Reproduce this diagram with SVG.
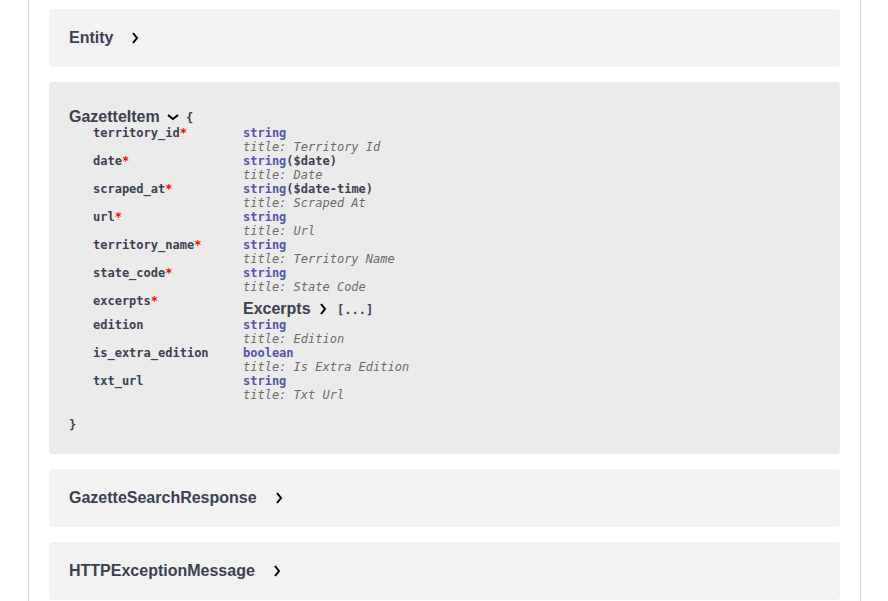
<svg xmlns="http://www.w3.org/2000/svg" width="888" height="601" viewBox="0 0 888 601">
<style>
.h{font-family:"Liberation Sans",Arial,sans-serif;font-size:16px;font-weight:bold;fill:#3b4151}
.m{font-family:"DejaVu Sans Mono",monospace;font-size:12px;font-weight:bold;fill:#3b4151}
.t{font-family:"DejaVu Sans Mono",monospace;font-size:12px;font-weight:bold;fill:#5555aa}
.i{font-family:"DejaVu Sans Mono",monospace;font-size:12px;font-style:italic;fill:#6b6b6b}
.r{fill:#ff0000}
.c{fill:none;stroke:#000;stroke-width:2}
</style>
<rect width="888" height="601" fill="#fff"/>
<line x1="28.5" y1="0" x2="28.5" y2="601" stroke="#d8d8d8"/>
<line x1="860.5" y1="0" x2="860.5" y2="601" stroke="#d8d8d8"/>
<g id="entity"><rect x="49" y="9" width="791" height="58" rx="4" fill="#f2f2f2"/><text class="h" x="69" y="43">Entity</text><path class="c" d="M133 33l4 5-4 5"/></g>
<g id="gazetteitem"><rect x="49" y="82" width="791" height="372" rx="4" fill="#ebebeb"/>
<text class="h" x="69" y="122">GazetteItem</text><path class="c" d="M168 115l5 4 5-4"/><text class="m" x="186" y="122">{</text>
<text class="m" x="93" y="137">territory_id<tspan class="r">*</tspan></text><text class="t" x="243" y="137">string</text><text class="i" x="243" y="151">title: Territory Id</text>
<text class="m" x="93" y="165">date<tspan class="r">*</tspan></text><text class="t" x="243" y="165">string<tspan class="m">($date)</tspan></text><text class="i" x="243" y="179">title: Date</text>
<text class="m" x="93" y="193">scraped_at<tspan class="r">*</tspan></text><text class="t" x="243" y="193">string<tspan class="m">($date-time)</tspan></text><text class="i" x="243" y="207">title: Scraped At</text>
<text class="m" x="93" y="221">url<tspan class="r">*</tspan></text><text class="t" x="243" y="221">string</text><text class="i" x="243" y="235">title: Url</text>
<text class="m" x="93" y="249">territory_name<tspan class="r">*</tspan></text><text class="t" x="243" y="249">string</text><text class="i" x="243" y="263">title: Territory Name</text>
<text class="m" x="93" y="277">state_code<tspan class="r">*</tspan></text><text class="t" x="243" y="277">string</text><text class="i" x="243" y="291">title: State Code</text>
<text class="m" x="93" y="305">excerpts<tspan class="r">*</tspan></text><text class="h" x="243" y="314">Excerpts</text><path class="c" d="M321 304l4 5-4 5"/><text class="m" x="337" y="314">[...]</text>
<text class="m" x="93" y="329">edition</text><text class="t" x="243" y="329">string</text><text class="i" x="243" y="343">title: Edition</text>
<text class="m" x="93" y="357">is_extra_edition</text><text class="t" x="243" y="357">boolean</text><text class="i" x="243" y="371">title: Is Extra Edition</text>
<text class="m" x="93" y="385">txt_url</text><text class="t" x="243" y="385">string</text><text class="i" x="243" y="399">title: Txt Url</text>
<text class="m" x="69" y="429">}</text></g>
<g id="gazettesearchresponse"><rect x="49" y="469" width="791" height="58" rx="4" fill="#f2f2f2"/><text class="h" x="69" y="503">GazetteSearchResponse</text><path class="c" d="M277 493l4 5-4 5"/></g>
<g id="httpexceptionmessage"><rect x="49" y="542" width="791" height="58" rx="4" fill="#f2f2f2"/><text class="h" x="69" y="576">HTTPExceptionMessage</text><path class="c" d="M275 566l4 5-4 5"/></g>
<g id="connectors"/>
</svg>
